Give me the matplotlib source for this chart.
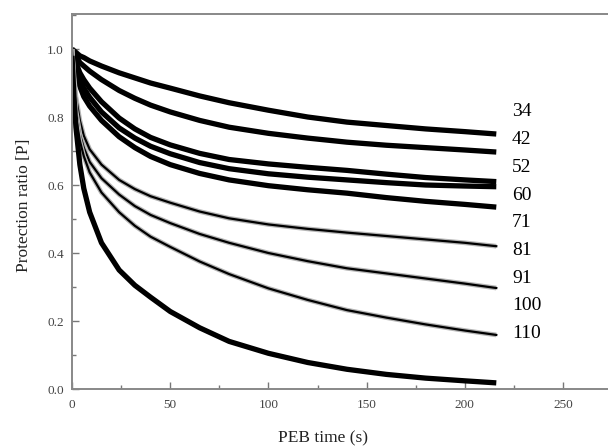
import matplotlib
matplotlib.use("Agg")
import matplotlib.pyplot as plt
from matplotlib.ticker import MultipleLocator, FormatStrFormatter

plt.rcParams["font.family"] = ["Liberation Serif", "DejaVu Serif"]

# PEB time samples (s)
t = [0, 1, 2, 4, 6, 9, 15, 24, 32, 40, 50, 65, 80, 100, 120, 140, 160, 180, 200, 216]

# protection ratio per curve, top to bottom
c1 = [1.00, 0.995, 0.99, 0.98, 0.975, 0.965, 0.95, 0.93, 0.915, 0.90, 0.885, 0.862, 0.842, 0.82, 0.80, 0.785, 0.775, 0.765, 0.757, 0.75]
c2 = [1.00, 0.99, 0.98, 0.96, 0.95, 0.935, 0.91, 0.878, 0.855, 0.835, 0.815, 0.79, 0.77, 0.752, 0.738, 0.726, 0.717, 0.71, 0.703, 0.697]
c3 = [1.00, 0.98, 0.96, 0.93, 0.91, 0.885, 0.845, 0.797, 0.765, 0.74, 0.718, 0.693, 0.675, 0.662, 0.652, 0.643, 0.632, 0.622, 0.615, 0.61]
c4 = [1.00, 0.975, 0.95, 0.91, 0.885, 0.858, 0.815, 0.768, 0.738, 0.714, 0.692, 0.666, 0.648, 0.633, 0.623, 0.615, 0.607, 0.60, 0.597, 0.595]
c5 = [1.00, 0.96, 0.93, 0.89, 0.86, 0.832, 0.79, 0.742, 0.71, 0.684, 0.66, 0.634, 0.615, 0.598, 0.586, 0.576, 0.563, 0.552, 0.543, 0.535]
c6 = [1.00, 0.92, 0.86, 0.79, 0.745, 0.705, 0.66, 0.615, 0.588, 0.567, 0.548, 0.522, 0.502, 0.484, 0.471, 0.46, 0.45, 0.44, 0.43, 0.42]
c7 = [1.00, 0.90, 0.82, 0.75, 0.71, 0.668, 0.62, 0.572, 0.538, 0.512, 0.488, 0.456, 0.43, 0.40, 0.376, 0.355, 0.34, 0.325, 0.31, 0.297]
c8 = [1.00, 0.89, 0.80, 0.73, 0.685, 0.637, 0.578, 0.52, 0.48, 0.448, 0.418, 0.375, 0.338, 0.296, 0.262, 0.232, 0.21, 0.19, 0.172, 0.159]
c9 = [0.98, 0.86, 0.77, 0.66, 0.59, 0.52, 0.43, 0.35, 0.305, 0.27, 0.228, 0.18, 0.14, 0.105, 0.078, 0.058, 0.043, 0.032, 0.024, 0.018]

curves = [c1, c2, c3, c4, c5, c6, c7, c8, c9]
grey_points = [False, False, False, False, False, True, True, True, False]
labels = ["34", "42", "52", "60", "71", "81", "91", "100", "110"]

fig = plt.figure(figsize=(6.08, 4.46), dpi=100)
# axes run past the right edge of the picture, as in the scan
ax = fig.add_axes([72 / 608, 57 / 446, 550 / 608, 375 / 446])

for vals, grey in zip(curves, grey_points):
    if grey:
        ax.plot(t, vals, color="#b5b5b5", lw=3.4, solid_capstyle="butt", solid_joinstyle="round")
        ax.plot(t, vals, color="black", lw=1.6, solid_joinstyle="round")
    else:
        ax.plot(t, vals, color="black", lw=3.8, solid_capstyle="butt", solid_joinstyle="round")

ax.set_xlim(0, 280)
ax.set_ylim(0, 1.103)
ax.xaxis.set_major_locator(MultipleLocator(50))
ax.xaxis.set_minor_locator(MultipleLocator(25))
ax.yaxis.set_major_locator(MultipleLocator(0.2))
ax.yaxis.set_minor_locator(MultipleLocator(0.1))
ax.yaxis.set_major_formatter(FormatStrFormatter("%.1f"))
ax.tick_params(which="both", direction="in", colors="#777", labelcolor="#444", labelsize=9.5, width=1)
ax.tick_params(which="major", length=5)
ax.tick_params(which="minor", length=3)
ax.tick_params(axis="x", pad=7)
ax.tick_params(axis="y", pad=6)
for s in ax.spines.values():
    s.set_color("#888")
    s.set_linewidth(1.4)

ax.set_xlabel("PEB time (s)", fontsize=12.5, color="#222", va="center")
ax.xaxis.set_label_coords((323 - 72) / 550, -0.132)
ax.set_ylabel("Protection ratio [P]", fontsize=12.5, color="#222", va="center")
ax.yaxis.set_label_coords(-0.088, 0.49)

for i, lab in enumerate(labels):
    ax.text(224, 0.815 - i * 0.0815, lab, fontsize=14, va="center", ha="left")

fig.savefig("out.png", dpi=100)
